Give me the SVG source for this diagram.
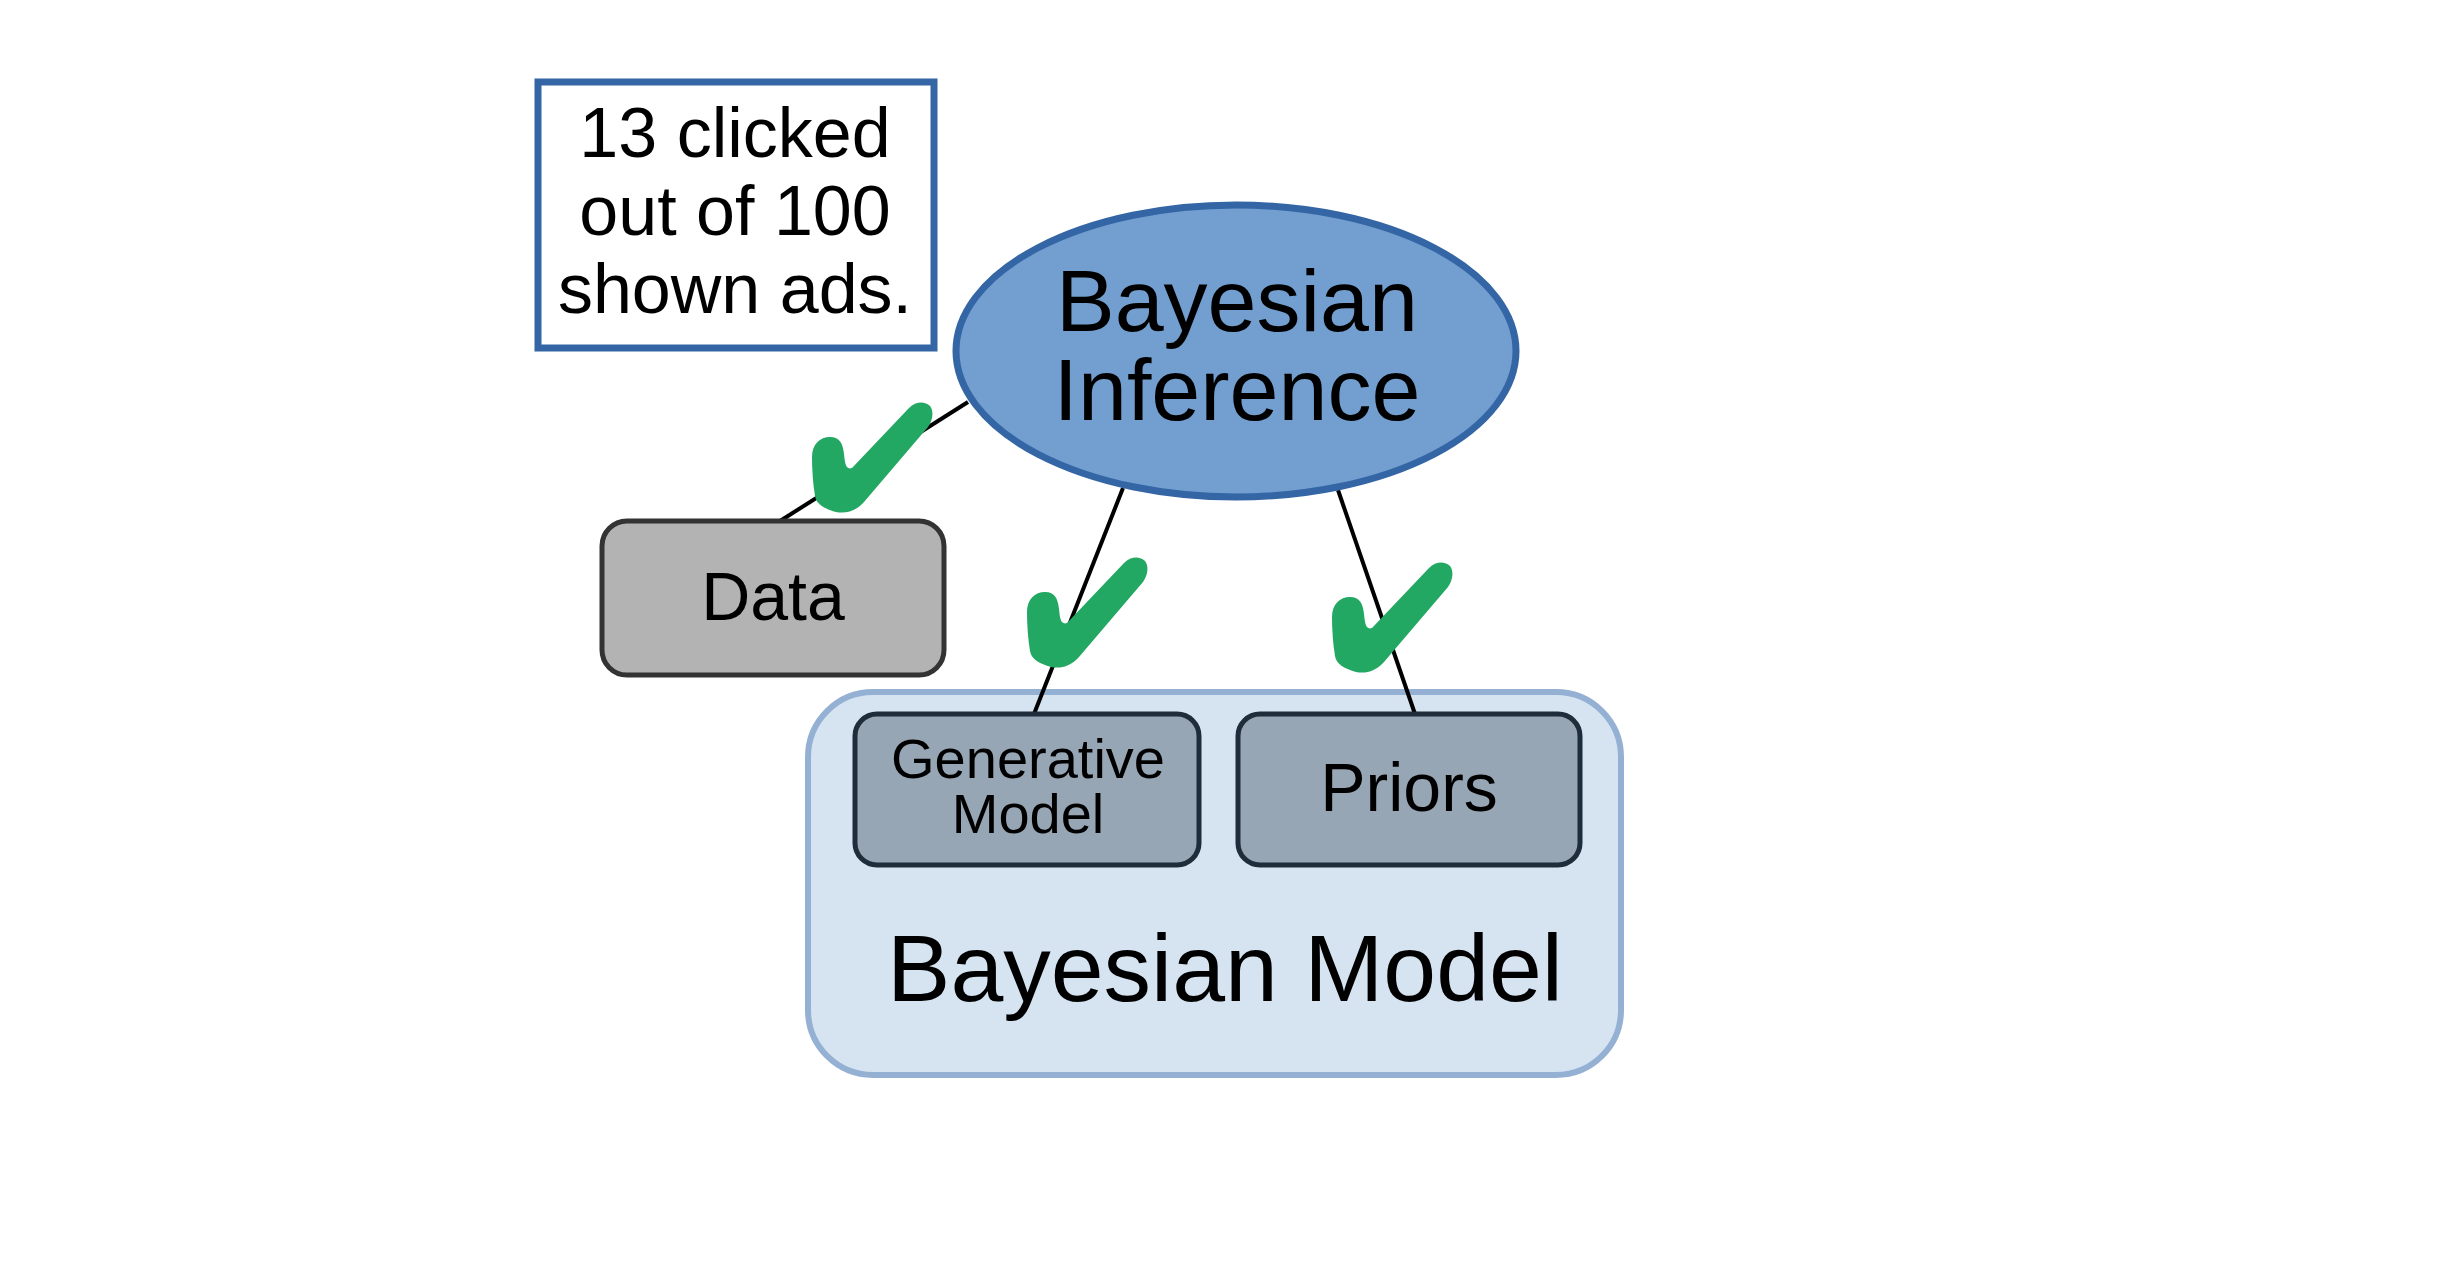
<svg xmlns="http://www.w3.org/2000/svg" width="2460" height="1266" viewBox="0 0 2460 1266">
<defs>
<style>
.t{font-family:"Liberation Sans",Arial,sans-serif;fill:#000;text-anchor:middle}
.edge{stroke:#000;stroke-width:4;fill:none}
.chk{fill:#23a863}
</style>
<path id="check" d="M0,55 C0,42 8,35 18,35 C28,35 31,42 32,52 C33,62 34,68 40,66 L97,6 C104,-1 113,-1 118,4 C122,9 121,18 116,25 L52,100 C44,109 34,112 24,110 C13,107 4,102 3,94 C1,82 0,68 0,55 Z"/>
</defs>
<rect width="2460" height="1266" fill="#fff"/>
<g id="bayesian-model">
<rect x="808" y="692" width="813" height="383" rx="65" fill="#d6e4f2" stroke="#94b0d3" stroke-width="6"/>
<text class="t" x="1225" y="1001" font-size="95">Bayesian Model</text>
</g>
<g id="connectors">
<line class="edge" x1="968" y1="402" x2="780" y2="521"/>
<line class="edge" x1="1123" y1="488" x2="1034" y2="714"/>
<line class="edge" x1="1338" y1="490" x2="1415" y2="714"/>
</g>
<g id="observation">
<rect x="538" y="82" width="396" height="266" fill="#fff" stroke="#3465a4" stroke-width="7"/>
<text class="t" x="735" y="157" font-size="70">13 clicked</text>
<text class="t" x="735" y="235" font-size="70">out of 100</text>
<text class="t" x="735" y="313" font-size="70">shown ads.</text>
</g>
<g id="bayesian-inference">
<ellipse cx="1236" cy="351" rx="280" ry="146" fill="#729fcf" stroke="#3465a4" stroke-width="7"/>
<text class="t" x="1237" y="331" font-size="88">Bayesian</text>
<text class="t" x="1237" y="420" font-size="88">Inference</text>
</g>
<g id="data">
<rect x="602" y="521" width="342" height="154" rx="25" fill="#b3b3b3" stroke="#333" stroke-width="5"/>
<text class="t" x="773" y="620" font-size="68">Data</text>
</g>
<g id="generative-model">
<rect x="855" y="714" width="344" height="151" rx="22" fill="#97a6b4" stroke="#1f2d3a" stroke-width="5"/>
<text class="t" x="1028" y="778" font-size="56">Generative</text>
<text class="t" x="1028" y="833" font-size="56">Model</text>
</g>
<g id="priors">
<rect x="1238" y="714" width="342" height="151" rx="22" fill="#97a6b4" stroke="#1f2d3a" stroke-width="5"/>
<text class="t" x="1409" y="811" font-size="68">Priors</text>
</g>
<g id="checks">
<use href="#check" class="chk" transform="translate(812,402)"/>
<use href="#check" class="chk" transform="translate(1027,557)"/>
<use href="#check" class="chk" transform="translate(1332,562)"/>
</g>
</svg>
